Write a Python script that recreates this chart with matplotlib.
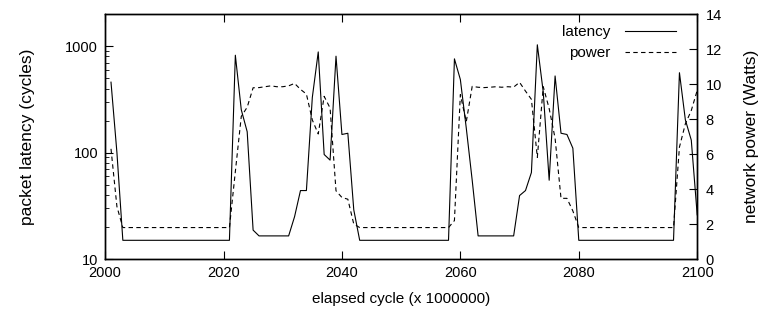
import numpy as np
import matplotlib
matplotlib.use("Agg")
import matplotlib.pyplot as plt
from matplotlib.ticker import LogLocator, NullFormatter

plt.rcParams['font.family'] = ['Liberation Sans', 'DejaVu Sans']
plt.rcParams['font.size'] = 10.5

# elapsed cycle (x 1000000), one sample per million cycles
cycle = np.arange(2001, 2101)

# packet latency (cycles)
latency = ([459, 100] + [15] * 19 +                                  # 2001-2021
           [822, 253, 157, 18.7] + [16.5] * 6 +                      # 2022-2031
           [25, 44, 44, 330, 883, 96, 85, 805, 148, 152, 29] +       # 2032-2042
           [15] * 16 +                                               # 2043-2058
           [760, 486, 170, 55] + [16.5] * 7 +                        # 2059-2069
           [39.5, 44, 65, 1030, 370, 55, 525, 152, 148, 110] +       # 2070-2079
           [15] * 17 +                                               # 2080-2096
           [563, 203, 131, 26])                                      # 2097-2100

# network power (Watts)
power = ([6.3, 3.0] + [1.8] * 19 +
         [5.0, 8.15, 8.68, 9.79, 9.8, 9.85, 9.9, 9.85, 9.85, 9.9] +
         [10.04, 9.7, 9.43, 7.95, 7.15, 9.3, 8.63, 3.9, 3.52, 3.42, 2.0] +
         [1.8] * 16 +
         [2.2, 9.4, 7.85, 9.87, 9.82, 9.8, 9.82, 9.85, 9.82, 9.85, 9.83] +
         [10.1, 9.6, 9.13, 5.81, 9.85, 8.6, 6.9, 3.47, 3.47, 2.75] +
         [1.8] * 17 +
         [6.4, 7.73, 8.49, 9.64])

fig = plt.figure(figsize=(7.67, 3.21), dpi=100)
ax = fig.add_axes([0.137, 0.193, 0.772, 0.763])
ax2 = ax.twinx()

l1, = ax.plot(cycle, latency, color='black', lw=0.8, label='latency')
l2, = ax2.plot(cycle, power, color='black', lw=0.8, dashes=(4, 3), label='power')

ax.set_xlim(2000, 2100)
ax.set_yscale('log')
ax.set_ylim(10, 2000)
ax.set_yticks([10, 100, 1000])
ax.set_yticklabels(['10', '100', '1000'])
ax.yaxis.set_minor_locator(LogLocator(base=10, subs=np.arange(2, 10)))
ax.yaxis.set_minor_formatter(NullFormatter())
ax.set_xticks(np.arange(2000, 2101, 20))

ax2.set_ylim(0, 14)
ax2.set_yticks(np.arange(0, 15, 2))

ax.tick_params(axis='x', direction='in', length=6, top=True, width=0.8, pad=5)
ax.tick_params(axis='y', which='major', direction='in', length=6, right=False, width=0.8, pad=5)
ax.tick_params(axis='y', which='minor', direction='in', length=3, right=False, width=0.6)
ax2.tick_params(axis='y', direction='in', length=6, width=0.8, pad=6)

for a in (ax, ax2):
    for s in a.spines.values():
        s.set_linewidth(1.0)

ax.set_xlabel('elapsed cycle (x 1000000)', fontsize=11)
ax.xaxis.set_label_coords(0.5, -0.135)
ax.set_ylabel('packet latency (cycles)', fontsize=12.5)
ax.yaxis.set_label_coords(-0.118, 0.5)
ax2.set_ylabel('network power (Watts)', fontsize=12.5)
ax2.yaxis.set_label_coords(1.079, 0.5)

leg = ax.legend(handles=[l1, l2], loc='upper right', bbox_to_anchor=(0.965, 0.955),
                frameon=False, markerfirst=False, handlelength=3.4, handletextpad=0.9,
                borderaxespad=0, borderpad=0, labelspacing=0.45, fontsize=11)
for t in leg.get_texts():
    t.set_ha('right')

fig.savefig('out.png', dpi=100)
